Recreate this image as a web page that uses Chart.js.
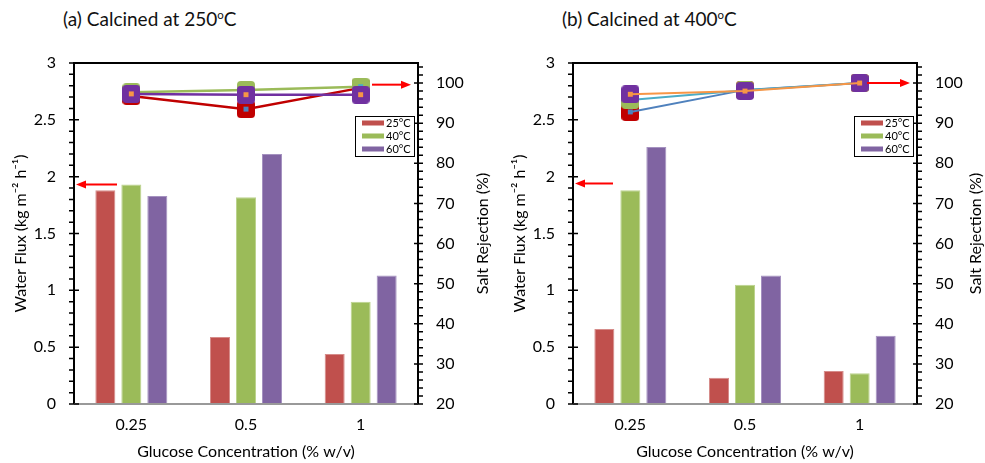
<!DOCTYPE html>
<html>
<head>
<meta charset="utf-8">
<script src="https://cdn.jsdelivr.net/npm/chart.js@4.4.1/dist/chart.umd.min.js"></script>
<style>
body { margin: 0; background: #fff; width: 985px; height: 463px; overflow: hidden; position: relative; font-family: Lato, "Open Sans", sans-serif; }
canvas { position: absolute; top: 0; }
.ttl { position: absolute; top: 7px; font-size: 19px; color: #111; white-space: nowrap; }
.ttl span { font-size: 0.6em; position: relative; top: -0.6em; }
</style>
</head>
<body>
<div class="ttl" style="left:63px">(a) Calcined at 250<span>o</span>C</div>
<div class="ttl" style="left:562px">(b) Calcined at 400<span>o</span>C</div>
<canvas id="chartA" width="492" height="463" style="left:0"></canvas>
<canvas id="chartB" width="486" height="463" style="left:499px"></canvas>
<script>
const categories = ['0.25', '0.5', '1'];
const seriesNames = ['25°C', '40°C', '60°C'];
const fluxTicks = [0, 0.5, 1, 1.5, 2, 2.5, 3];
const rejTicks = [20, 30, 40, 50, 60, 70, 80, 90, 100];

// (a) calcined at 250 oC
const fluxA25 = [1.88, 0.59, 0.44];
const fluxA40 = [1.93, 1.82, 0.90];
const fluxA60 = [1.83, 2.20, 1.13];
const rejA25 = [96.8, 93.5, 98.8];
const rejA40 = [97.7, 98.3, 99.1];
const rejA60 = [97.3, 97.1, 97.1];

// (b) calcined at 400 oC
const fluxB25 = [0.66, 0.23, 0.29];
const fluxB40 = [1.88, 1.05, 0.27];
const fluxB60 = [2.26, 1.13, 0.60];
const rejB25 = [92.8, 98.3, 100];
const rejB40 = [95.8, 98.2, 100];
const rejB60 = [97.2, 98.0, 100];

const FONT = 'Lato, "Open Sans", sans-serif';
const barColors = ['#C0504D', '#9BBB59', '#8064A2'];
const barEdges = ['#D68C8A', '#BCD38E', '#A592C0'];
const bigColors = ['#C00000', '#9BBB59', '#7030A0'];
const smallColors = ['#4F81BD', '#4BACC6', '#F79646'];

function makeMarker(color) {
    const c = document.createElement('canvas');
    c.width = 18; c.height = 18;
    const g = c.getContext('2d');
    g.fillStyle = color;
    g.beginPath();
    g.roundRect(0, 0, 18, 18, 4);
    g.fill();
    return c;
}
const bigMarkers = bigColors.map(makeMarker);

function arrow(ctx, x0, x1, y) {
    const dir = x1 > x0 ? 1 : -1;
    ctx.save();
    ctx.strokeStyle = '#FF0000';
    ctx.fillStyle = '#FF0000';
    ctx.lineWidth = 2;
    ctx.beginPath();
    ctx.moveTo(x0, y);
    ctx.lineTo(x1 - dir * 8, y);
    ctx.stroke();
    ctx.beginPath();
    ctx.moveTo(x1, y);
    ctx.lineTo(x1 - dir * 10, y - 4);
    ctx.lineTo(x1 - dir * 10, y + 4);
    ctx.closePath();
    ctx.fill();
    ctx.restore();
}

const decor = {
    id: 'decor',
    afterDatasetsDraw(chart, args, opts) {
        const ctx = chart.ctx;
        const a = chart.chartArea;
        const y = chart.scales.y, y1 = chart.scales.y1;
        ctx.save();
        // frame
        ctx.lineWidth = 2;
        ctx.strokeStyle = '#000';
        ctx.beginPath();
        ctx.moveTo(a.left, a.bottom);
        ctx.lineTo(a.left, a.top);
        ctx.lineTo(a.right, a.top);
        ctx.lineTo(a.right, a.bottom);
        ctx.stroke();
        ctx.strokeStyle = '#999';
        ctx.beginPath();
        ctx.moveTo(a.left, a.bottom);
        ctx.lineTo(a.right, a.bottom);
        ctx.stroke();
        // ticks
        ctx.strokeStyle = '#000';
        ctx.lineWidth = 1.5;
        ctx.beginPath();
        for (let i = 0; i <= 30; i++) {
            const p = y.getPixelForValue(i / 10);
            const major = i % 5 === 0;
            ctx.moveTo(a.left - 5, p);
            ctx.lineTo(major ? a.left + 5 : a.left, p);
        }
        for (let v = 20; v <= 104; v += 2) {
            const p = y1.getPixelForValue(v);
            const major = v % 10 === 0;
            ctx.moveTo(major ? a.right - 4 : a.right, p);
            ctx.lineTo(a.right + 5, p);
        }
        ctx.stroke();
        // right axis title (reads bottom to top)
        ctx.fillStyle = '#000';
        ctx.font = '16px ' + FONT;
        ctx.textAlign = 'center';
        ctx.textBaseline = 'middle';
        ctx.translate(chart.width - 9, (a.top + a.bottom) / 2);
        ctx.rotate(-Math.PI / 2);
        ctx.fillText('Salt Rejection (%)', 0, 0);
        ctx.restore();

        // legend
        ctx.save();
        const lx = a.right - 63, ly = a.top + 53;
        ctx.fillStyle = '#fff';
        ctx.fillRect(lx, ly, 59, 40);
        ctx.strokeStyle = '#000';
        ctx.lineWidth = 1;
        ctx.strokeRect(lx + 0.5, ly + 0.5, 59, 40);
        ctx.font = '11px ' + FONT;
        ctx.textBaseline = 'middle';
        seriesNames.forEach((n, i) => {
            const yy = ly + 7 + i * 13;
            ctx.fillStyle = barColors[i];
            ctx.fillRect(lx + 7, yy - 2.5, 22, 5);
            ctx.fillStyle = '#000';
            ctx.fillText(n, lx + 31, yy);
        });
        ctx.restore();

        // red arrows pointing at the axis each series uses
        arrow(ctx, a.left + opts.leftFrom, a.left + 2, y.getPixelForValue(opts.leftAt));
        arrow(ctx, a.right - opts.rightFrom, a.right - 7, y1.getPixelForValue(opts.rightAt));
    }
};

function makeChart(id, width, flux, rej, bigLines, arrows) {
    const datasets = [];
    flux.forEach((d, i) => {
        datasets.push({
            type: 'bar', label: seriesNames[i], data: d, yAxisID: 'y', order: 10,
            backgroundColor: barColors[i], borderColor: barEdges[i], borderWidth: 1,
            barPercentage: 0.77, categoryPercentage: 0.68
        });
    });
    rej.forEach((d, i) => {
        datasets.push({
            type: 'line', data: d, yAxisID: 'y1', order: 6 - 2 * i,
            borderColor: bigColors[i], borderWidth: 2.5, showLine: bigLines,
            pointStyle: bigMarkers[i], pointRadius: 9
        });
        datasets.push({
            type: 'line', data: d, yAxisID: 'y1', order: 5 - 2 * i,
            borderColor: smallColors[i], borderWidth: 2, showLine: !bigLines,
            pointStyle: 'rect', pointRadius: 3.5, pointBorderWidth: 0,
            pointBackgroundColor: smallColors[i]
        });
    });
    const tickFont = { family: FONT, size: 16 };
    return new Chart(document.getElementById(id), {
        data: { labels: categories, datasets: datasets },
        options: {
            responsive: false,
            animation: false,
            layout: { padding: { top: 63, left: 0, right: 0, bottom: 0 } },
            plugins: {
                legend: { display: false },
                tooltip: { enabled: false },
                decor: arrows
            },
            scales: {
                x: {
                    grid: { display: false, drawTicks: false },
                    border: { display: false },
                    ticks: { font: tickFont, color: '#000', padding: 11 },
                    title: {
                        display: true, text: 'Glucose Concentration (% w/v)', color: '#000',
                        font: { family: FONT, size: 16 }, padding: { top: 0, bottom: 2 }
                    },
                    afterFit: s => { s.height = 59; }
                },
                y: {
                    position: 'left', min: 0, max: 3,
                    afterBuildTicks: s => { s.ticks = fluxTicks.map(v => ({ value: v })); },
                    grid: { display: false, drawTicks: false },
                    border: { display: false },
                    ticks: { font: tickFont, color: '#000', padding: 18, callback: v => String(v) },
                    title: {
                        display: true, text: 'Water Flux (kg m⁻² h⁻¹)', color: '#000',
                        font: { family: FONT, size: 16 }, padding: { top: 11, bottom: 0 }
                    },
                    afterFit: s => { s.width = 74; }
                },
                y1: {
                    position: 'right', min: 20, max: 105,
                    afterBuildTicks: s => { s.ticks = rejTicks.map(v => ({ value: v })); },
                    grid: { display: false, drawTicks: false },
                    border: { display: false },
                    ticks: { font: tickFont, color: '#000', padding: 18, callback: v => String(v) },
                    afterFit: s => { s.width = width - 418; }
                }
            }
        },
        plugins: [decor]
    });
}

makeChart('chartA', 492, [fluxA25, fluxA40, fluxA60], [rejA25, rejA40, rejA60], true,
    { leftAt: 1.93, leftFrom: 43, rightAt: 99.6, rightFrom: 46 });
makeChart('chartB', 486, [fluxB25, fluxB40, fluxB60], [rejB25, rejB40, rejB60], false,
    { leftAt: 1.94, leftFrom: 40, rightAt: 100, rightFrom: 50 });
</script>
</body>
</html>
